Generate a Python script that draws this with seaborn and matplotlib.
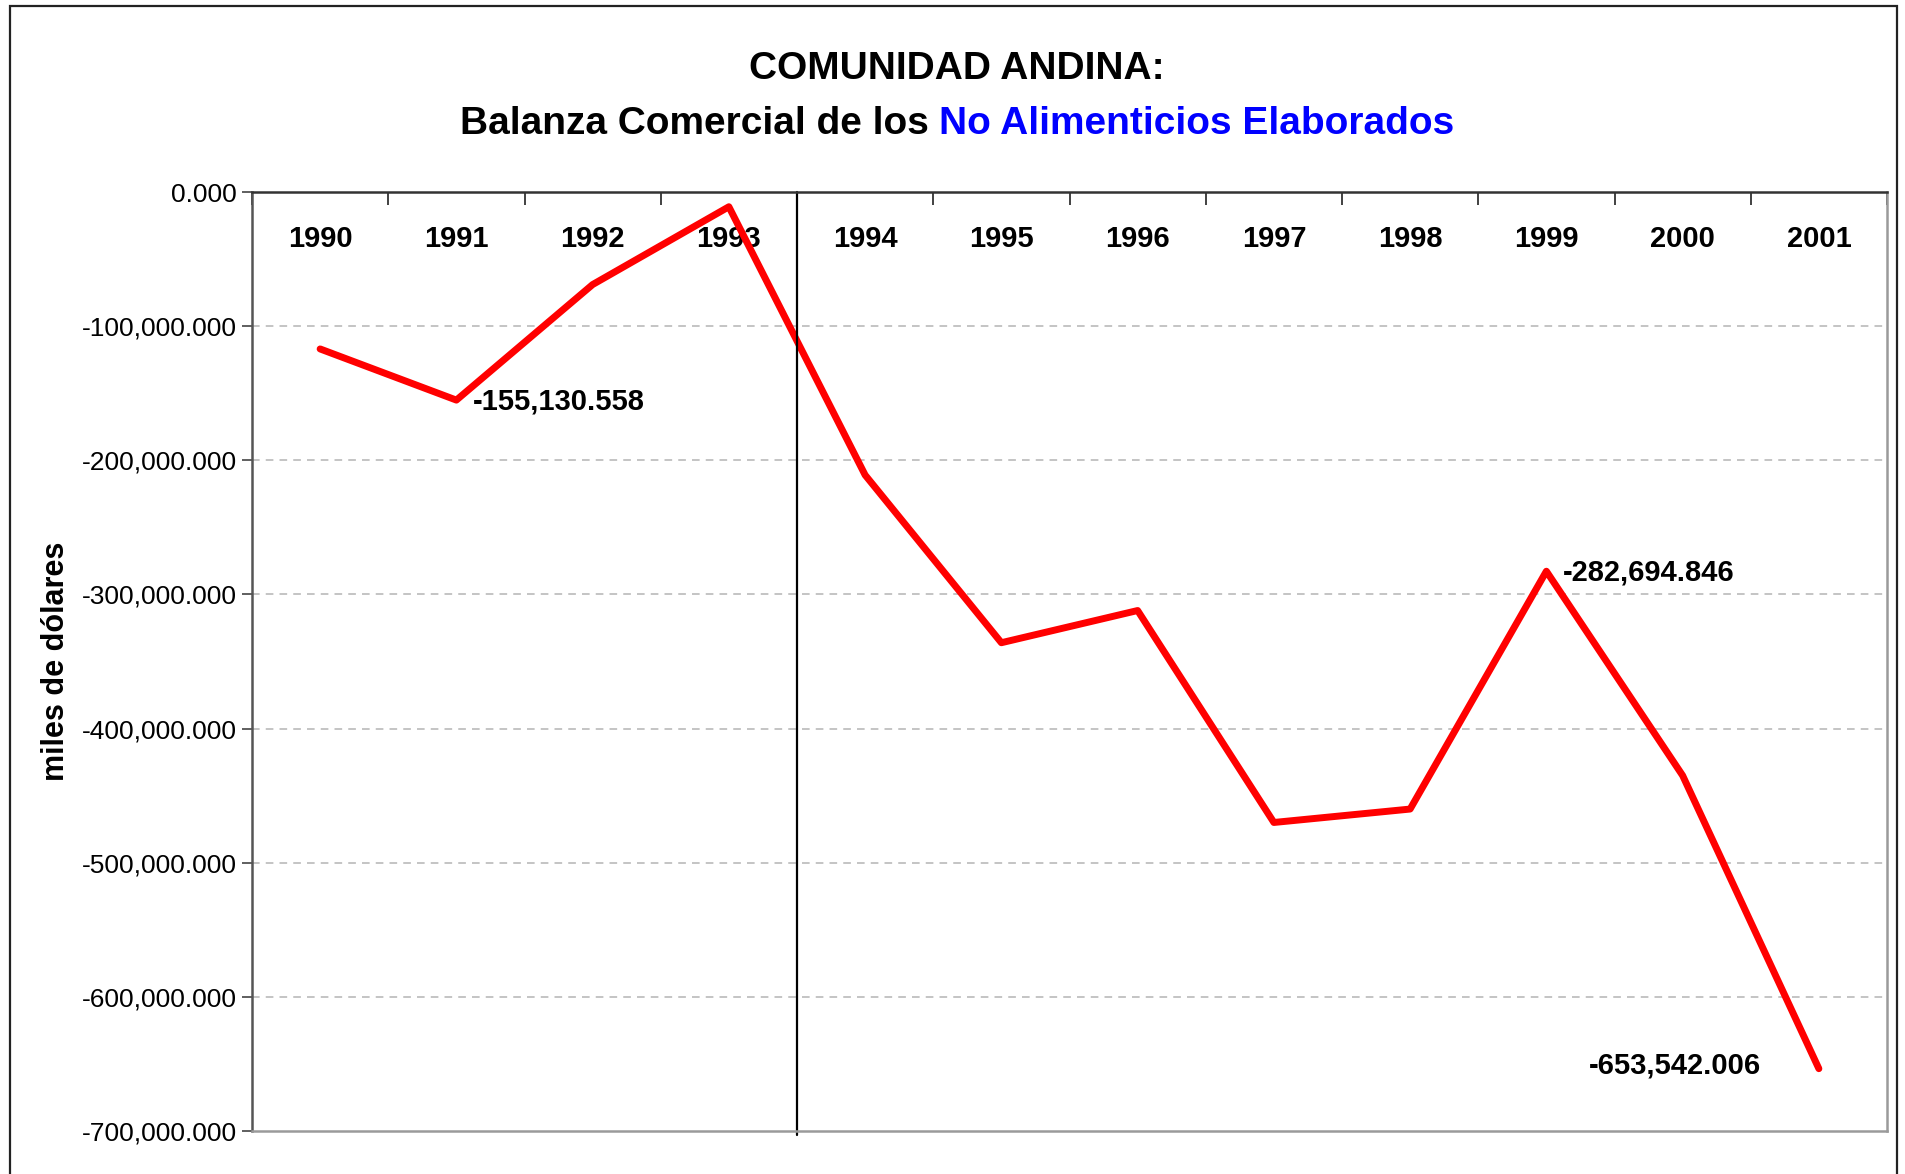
import matplotlib
matplotlib.use("Agg")
import matplotlib.pyplot as plt
import seaborn as sns
import numpy as np
import pandas as pd
from matplotlib.ticker import FuncFormatter, MultipleLocator, FixedLocator
from matplotlib.patches import Rectangle

# data (miles de dolares)
years = ["1990", "1991", "1992", "1993", "1994", "1995", "1996",
         "1997", "1998", "1999", "2000", "2001"]
balance = [-117000.0, -155130.558, -69000.0, -11000.0, -211000.0, -336000.0,
           -312000.0, -470000.0, -460000.0, -282694.846, -435000.0, -653542.006]
labelled = ["1991", "1999", "2001"]

df = pd.DataFrame({"pos": np.arange(len(years)), "year": years, "value": balance})

sns.set_style("white")
plt.rcParams["font.family"] = ["Liberation Sans", "DejaVu Sans"]
plt.rcParams["text.color"] = "black"
plt.rcParams["axes.labelcolor"] = "black"
plt.rcParams["xtick.color"] = "black"
plt.rcParams["ytick.color"] = "black"
narrow = ["Liberation Sans Narrow", "Liberation Sans", "DejaVu Sans"]

W, H = 1906, 1174
fig = plt.figure(figsize=(W / 100, H / 100), dpi=100)
ax = fig.add_axes([252 / W, 1 - 1131 / H, (1887 - 252) / W, (1131 - 192) / H])

sns.lineplot(data=df, x="pos", y="value", color="#ff0000", lw=5, ax=ax,
             legend=False)

ax.set_xlim(-0.5, len(years) - 0.5)
ax.set_ylim(-700000, 0)
ax.yaxis.set_major_locator(MultipleLocator(100000))
ax.yaxis.set_major_formatter(FuncFormatter(lambda v, p: f"{v:,.3f}"))
for v in np.arange(-600000, 0, 100000):
    ax.axhline(v, color="#b4b4b4", lw=1.1, ls=(0, (5, 4)), zorder=0)

# category labels inside the top of the plot, ticks at the boundaries
ax.xaxis.set_major_locator(FixedLocator(df["pos"]))
ax.set_xticklabels(years)
ax.xaxis.set_minor_locator(FixedLocator(np.arange(-0.5, len(years), 1.0)))
ax.tick_params(axis="x", which="major", top=True, labeltop=True, bottom=False,
               labelbottom=False, length=0, pad=-44)
ax.tick_params(axis="x", which="minor", top=True, bottom=False, direction="in",
               length=9, width=1.3, color="#333333")
for t in ax.get_xticklabels():
    t.set_fontfamily(narrow)
    t.set_fontweight("bold")
    t.set_fontsize(21)
ax.tick_params(axis="y", direction="out", length=7, width=1.2, color="#444444",
               labelsize=19, pad=4, left=True)

ax.axvline(3.5, color="black", lw=1.6, ymin=-0.004, clip_on=False)

ax.set_xlabel("")
ax.set_ylabel("miles de dólares", fontsize=22, fontweight="bold")
ax.yaxis.set_label_coords(-0.111, 0.5)

ax.spines["top"].set_color("#333333")
ax.spines["left"].set_color("#555555")
ax.spines["right"].set_color("#9a9a9a")
ax.spines["bottom"].set_color("#9a9a9a")
for s in ax.spines.values():
    s.set_linewidth(1.8)

# data labels
for _, r in df[df["year"].isin(labelled)].iterrows():
    txt = f"{r['value']:,.3f}"
    if r["year"] == "2001":
        ax.annotate(txt, (r["pos"], r["value"]), xytext=(-42, 2),
                    textcoords="offset points", ha="right", va="center",
                    fontsize=21, fontweight="bold")
    else:
        ax.annotate(txt, (r["pos"], r["value"]), xytext=(12, -1),
                    textcoords="offset points", ha="left", va="center",
                    fontsize=21, fontweight="bold")

# title
fig.text(957 / W, 1 - 69 / H, "COMUNIDAD ANDINA:", ha="center", va="center",
         fontsize=28, fontweight="bold", family=narrow)
t1 = fig.text(0, 1 - 124 / H, "Balanza Comercial de los ", ha="left",
              va="center", fontsize=28, fontweight="bold", family=narrow)
t2 = fig.text(0, 1 - 124 / H, "No Alimenticios Elaborados", ha="left",
              va="center", fontsize=28, fontweight="bold", family=narrow,
              color="#0000ff")
r = fig.canvas.get_renderer()
w1 = t1.get_window_extent(r).width
w2 = t2.get_window_extent(r).width
x0 = 957 - (w1 + w2) / 2
t1.set_x(x0 / W)
t2.set_x((x0 + w1) / W)

# outer frame of the chart
fig.patches.append(Rectangle((10 / W, -0.01), (1897 - 10) / W, 1 - 6 / H + 0.01,
                             transform=fig.transFigure, fill=False,
                             edgecolor="#222222", lw=1.6))

fig.savefig("out.png", dpi=100, facecolor="white")
